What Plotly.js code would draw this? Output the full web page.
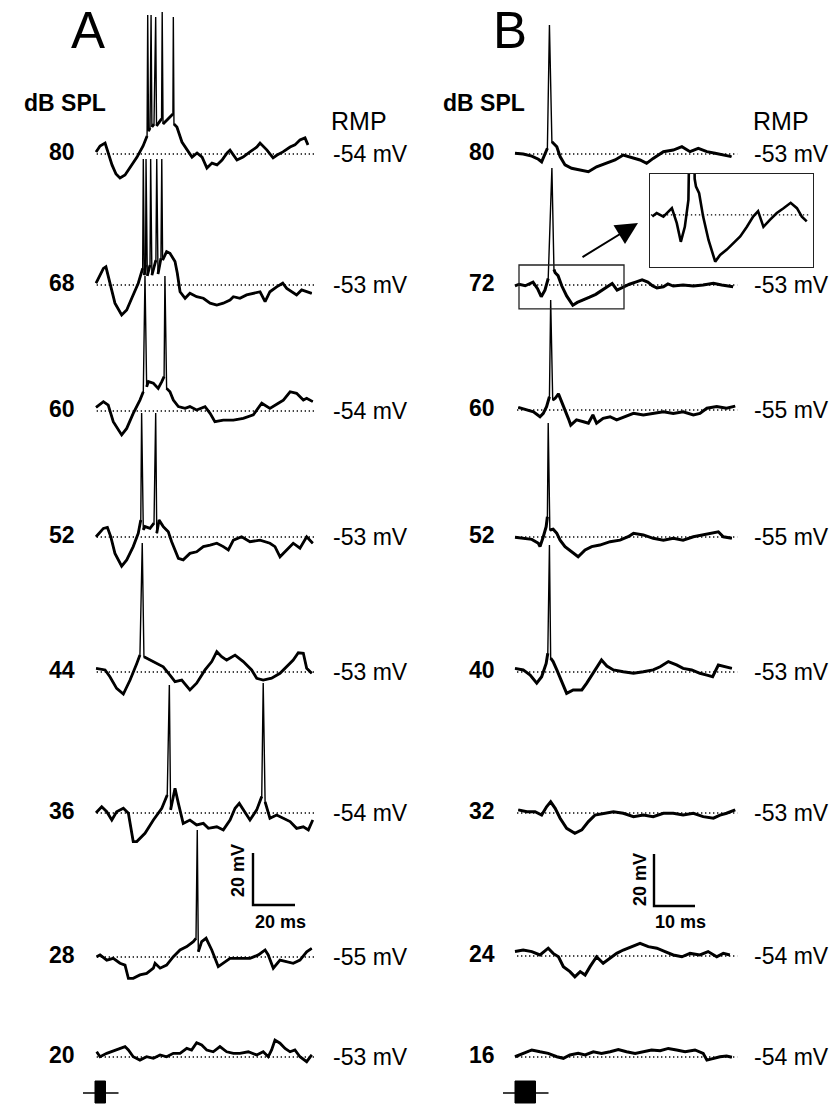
<!DOCTYPE html>
<html><head><meta charset="utf-8">
<script src="https://cdn.plot.ly/plotly-3.0.1.min.js"></script>
<style>html,body{margin:0;padding:0;background:#fff}</style>
</head><body><div id="chart" style="width:838px;height:1107px"></div>
<script>
// ---------- DATA (time in ms from stimulus onset, deviation from RMP in mV) ----------
const dbA = ['80','68','60','52','44','36','28','20'];
const rmpA = [-54,-53,-54,-53,-53,-54,-55,-53];
const dbB = ['80','72','60','52','40','32','24','16'];
const rmpB = [-53,-53,-55,-55,-53,-53,-54,-54];
const stimDur = 5;          // ms
const scaleA = {mv:20, ms:20};
const scaleB = {mv:20, ms:10};

// Panel A
const tA80=[0.5,2.4,4.8,6.2,8.1,10.0,11.9,14.3,16.7,20.0,22.9,24.8,25.1,25.5,26.2,26.7,27.1,28.1,28.9,29.3,30.5,31.7,32.0,32.4,33.8,35.7,37.1,37.3,37.6,39.0,41.4,43.8,46.2,48.6,51.0,53.3,55.7,58.1,60.5,62.9,64.3,67.6,70.5,73.8,77.1,78.6,81.9,84.8,86.7,89.5,92.9,95.2,97.6,100.0,101.4];
const vA80=[0.8,3.1,4.2,0.4,-4.2,-7.7,-9.2,-8.1,-5.4,-1.2,3.1,6.9,53.5,8.8,10.0,53.5,10.4,11.5,52.7,10.8,12.3,13.5,54.6,11.5,12.7,14.2,15.4,52.7,11.5,10.4,4.6,1.5,-1.2,0.4,-1.2,-5.4,-3.5,-4.2,-2.3,0.4,1.5,-2.3,-1.2,0.8,2.7,4.2,1.5,-1.5,-0.4,0.8,2.7,3.5,5.4,6.2,3.5];
const tA68=[0.5,4.0,5.2,6.3,8.0,9.5,12.7,15.1,17.5,20.6,22.7,23.0,23.5,24.1,24.3,24.9,26.2,26.5,27.1,29.0,29.4,30.0,31.4,31.8,32.2,34.1,35.7,38.1,39.2,40.5,42.9,45.2,48.4,51.6,54.8,58.0,61.1,64.3,65.9,69.0,72.2,75.4,78.6,81.0,83.3,86.5,89.4,91.3,93.7,96.0,98.4,100.8,103.2];
const vA68=[0.7,6.4,7.0,3.2,-1.9,-7.0,-11.5,-9.6,-5.1,0.7,6.4,48.5,3.8,7.7,48.5,3.5,7.7,48.5,3.8,9.6,48.5,4.2,10.3,48.5,9.6,12.8,12.2,9.0,4.5,-2.6,-5.1,-3.2,-4.5,-5.1,-7.0,-7.7,-7.0,-5.8,-4.5,-5.1,-3.8,-3.2,-2.6,-6.4,-2.6,-0.7,0.7,-1.3,-2.6,-3.8,-1.9,-2.6,-3.2];
const tA60=[0.5,4.0,6.3,8.7,12.7,15.1,18.2,21.4,23.0,23.8,24.6,25.4,27.8,30.1,31.8,32.9,33.3,34.1,35.7,37.3,39.7,42.9,45.2,48.4,52.4,54.8,57.1,61.1,65.9,70.6,75.4,79.4,83.3,87.3,89.7,92.9,96.0,99.2,100.8,103.7];
const vA60=[1.4,3.6,2.3,-4.1,-9.2,-6.7,-0.9,4.2,7.4,51.9,9.3,11.3,10.7,8.7,11.3,13.2,51.9,8.7,7.4,4.2,1.7,1.0,1.7,0.4,1.7,-0.9,-4.1,-3.5,-3.5,-2.8,-1.5,3.0,1.0,3.0,4.2,7.4,6.8,4.2,4.9,3.6];
const tA52=[0.5,4.0,5.9,7.5,9.5,12.7,15.1,18.2,20.6,21.8,22.2,23.0,23.8,26.2,28.1,28.9,29.4,30.5,32.5,34.9,36.5,39.7,42.0,45.2,48.4,51.6,54.8,58.0,61.1,63.5,65.9,69.8,73.8,78.6,83.3,85.7,88.1,91.3,94.4,97.6,100.8,103.7];
const vA52=[0.1,3.3,3.7,0.1,-6.3,-11.2,-8.8,-3.7,1.4,6.5,47.7,2.7,4.0,3.3,5.3,47.7,1.4,6.5,4.0,2.0,-1.8,-8.2,-8.8,-6.3,-5.7,-3.7,-3.1,-2.4,-3.7,-5.0,-1.2,0.1,-1.8,-1.2,-2.4,-3.7,-7.6,-5.0,-2.4,-4.3,0.1,-2.4];
const tA44=[0.5,4.8,7.1,10.3,13.5,16.7,19.9,21.4,22.5,23.3,26.2,29.4,32.5,35.7,38.1,41.3,45.2,48.4,52.4,55.6,58.0,60.3,62.7,66.7,70.6,74.6,77.0,80.1,84.1,88.1,91.3,94.4,96.8,99.2,100.8,103.2];
const vA44=[1.4,0.8,-1.8,-6.3,-8.5,-3.1,3.3,6.5,49.6,5.9,4.6,3.3,2.0,-1.2,-3.7,-3.1,-6.9,-4.3,0.8,4.0,7.8,5.9,4.6,6.5,4.0,0.8,-2.4,-3.1,-2.4,-0.5,2.0,4.6,7.4,7.2,1.4,-0.5];
const tA36=[0.5,3.2,5.6,8.0,10.3,13.5,15.9,18.2,19.9,23.8,27.8,31.8,34.4,35.4,36.0,38.1,39.7,42.0,45.2,48.4,51.6,54.0,58.0,61.1,64.3,66.7,68.7,70.6,73.8,77.0,79.4,80.1,81.0,83.3,86.5,89.7,92.9,96.0,99.2,101.6,103.7];
const vA36=[0.1,2.4,0.5,-2.7,0.5,1.8,-0.1,-11.0,-11.0,-7.8,-2.7,1.8,6.9,49.2,1.2,9.5,3.7,-4.0,-2.7,-4.6,-4.0,-5.9,-5.3,-6.5,-2.7,1.8,3.7,1.2,-2.7,1.2,6.3,50.0,4.3,-2.0,-0.8,-2.0,-3.3,-5.9,-5.3,-6.5,-2.7];
const tA28=[0.8,2.4,5.6,8.7,11.9,14.3,15.9,18.2,21.4,24.6,27.8,28.6,31.0,34.1,37.3,40.5,43.7,46.8,48.1,48.7,49.2,50.8,52.9,55.6,58.7,61.1,64.3,69.0,73.8,77.8,81.0,82.5,84.9,88.1,91.3,94.4,97.6,100.8,103.2];
const vA28=[0.1,0.8,-1.2,-0.5,-2.4,-3.1,-8.2,-8.2,-6.9,-6.3,-4.3,-2.4,-4.3,-3.1,0.1,2.7,4.0,5.9,7.2,48.8,2.0,5.9,7.2,2.7,-3.7,-2.4,-0.5,-0.5,-0.5,0.8,2.7,0.8,-4.3,-1.2,-1.8,-2.4,-1.2,2.0,3.3];
const tA20=[0.8,2.4,5.6,9.5,14.3,15.9,18.2,21.4,24.6,27.8,31.0,34.1,37.3,40.5,43.7,46.0,48.4,50.8,53.2,56.3,59.5,62.7,65.9,69.0,73.0,77.0,80.1,82.5,84.1,85.7,88.1,90.5,92.9,95.2,97.6,100.8,103.2];
const vA20=[2.0,0.1,1.4,2.7,4.0,2.7,0.1,-1.2,0.1,-0.5,0.8,0.1,1.4,1.4,3.3,2.7,5.5,4.6,2.7,2.0,4.0,2.0,1.4,1.4,2.0,0.8,2.0,0.1,2.7,6.5,5.3,3.3,2.0,2.7,0.1,-1.8,0.8];

// Panel B
const tB80=[0.0,2.0,4.1,5.7,6.5,7.3,7.9,8.4,9.0,10.2,11.0,12.2,13.8,15.9,17.9,19.9,22.4,24.4,26.4,28.5,30.5,32.1,33.7,36.2,38.6,40.7,42.7,44.7,46.8,48.8,50.8,52.8];
const vB80=[0.3,0.0,-0.8,-2.0,-3.0,0.3,2.2,49.6,4.7,2.8,-1.0,-4.2,-5.5,-6.2,-6.8,-4.9,-3.6,-2.3,-0.4,-1.3,-2.3,-3.6,-1.7,0.9,1.5,2.8,0.9,2.2,0.9,0.3,-0.4,-1.0];
const tB72=[0.0,1.0,2.5,4.4,5.5,6.4,7.3,8.1,9.0,9.5,9.8,10.5,11.4,12.6,14.1,15.2,16.7,18.2,19.7,21.2,22.6,23.7,24.9,26.4,27.9,29.4,31.0,32.4,33.5,34.6,36.2,37.3,38.6,41.0,43.5,45.9,48.4,50.4,53.2];
const vB72=[-0.3,0.3,-0.3,1.1,-1.4,-4.5,-2.0,2.5,45.0,6.0,4.7,3.6,-0.3,-4.2,-7.8,-6.7,-5.8,-4.7,-3.6,-2.0,-0.3,0.6,-2.0,-0.8,0.3,1.1,2.0,1.1,-0.3,-1.1,-0.7,0.4,-0.4,0.0,-0.4,0.0,0.7,0.0,-0.7];
const tB60=[0.8,2.9,4.5,6.1,6.9,7.7,8.4,8.7,9.2,9.8,10.6,11.4,12.2,13.0,13.6,15.0,16.7,17.9,19.0,19.9,21.5,23.2,24.8,26.8,28.9,31.3,33.7,36.2,38.6,41.0,43.5,45.1,46.8,49.2,51.6,53.7];
const vB60=[1.0,0.0,-0.7,-2.6,-1.3,1.3,5.1,42.3,3.8,4.5,6.2,3.2,0.0,-3.2,-5.8,-3.8,-4.5,-5.1,-1.9,-5.1,-3.2,-2.6,-3.8,-2.6,-1.3,-1.9,-1.3,-0.7,-1.3,-0.7,-1.9,-1.3,0.7,1.3,0.7,1.5];
const tB52=[0.0,2.0,4.1,5.7,6.1,6.9,7.6,7.9,8.1,8.5,9.3,10.2,11.0,12.2,13.8,15.4,17.1,18.7,20.7,23.2,25.6,27.6,28.9,31.3,33.7,36.2,38.6,41.0,43.5,45.9,48.4,49.6,50.8,52.9];
const vB52=[-0.1,-0.5,-0.9,-2.4,-3.7,0.1,4.0,7.8,43.8,2.7,3.0,1.4,-1.2,-3.7,-5.7,-7.6,-5.0,-3.7,-3.1,-1.8,-1.2,0.1,1.4,0.8,-0.5,-1.2,-0.5,-1.2,0.1,0.8,1.4,2.0,0.1,-0.5];
const tB40=[0.0,2.0,3.7,5.3,6.5,7.6,8.0,8.4,8.7,9.3,10.2,11.0,12.0,12.6,14.2,16.3,17.5,19.1,21.1,22.4,24.0,26.4,28.9,31.3,33.7,35.4,37.4,39.4,41.0,43.1,45.1,46.8,48.2,49.6,51.2,52.9];
const vB40=[1.4,0.8,-1.2,-4.3,-1.8,3.3,7.2,48.8,5.3,4.0,0.8,-2.4,-6.3,-8.2,-6.9,-6.9,-4.3,-0.5,4.6,2.3,0.8,0.1,-0.5,0.1,0.8,2.0,4.0,2.7,1.4,0.8,-0.5,-1.2,-1.8,2.7,2.0,1.4];
const tB32=[0.8,2.9,4.9,6.5,7.7,8.7,9.8,11.0,12.6,14.6,16.3,17.9,19.5,21.5,24.0,26.4,28.9,31.3,33.7,36.2,38.6,41.0,43.5,45.9,48.4,50.0,51.6,53.7];
const vB32=[1.2,0.5,0.5,-0.8,2.4,4.3,1.8,-2.0,-5.9,-7.8,-6.5,-3.3,-0.8,-0.1,0.5,-0.1,-1.4,-0.8,-1.4,-0.1,-0.1,-0.8,-0.1,-1.4,-2.0,-0.8,-0.1,1.2];
const tB24=[0.0,2.0,4.1,6.1,8.1,9.3,10.6,11.8,13.4,14.6,15.9,17.1,18.3,19.9,21.5,23.2,24.8,26.4,28.5,30.5,32.5,34.6,36.6,38.6,40.7,42.7,45.1,47.1,49.2,50.8,52.4];
const vB24=[1.7,2.3,1.7,0.4,3.0,1.0,-0.3,-4.1,-6.0,-8.0,-6.0,-7.3,-4.1,-0.3,-2.8,-0.9,1.0,2.3,3.6,4.9,3.6,3.0,1.7,0.4,-0.3,1.0,0.4,1.7,-0.3,1.0,0.4];
const tB16=[0.0,2.0,4.1,6.1,8.1,10.2,11.8,13.4,15.4,17.1,19.1,21.1,23.2,25.2,27.2,29.3,31.3,33.3,35.4,37.4,39.4,41.5,43.9,45.9,46.8,48.4,50.0,51.6,52.9];
const vB16=[0.1,1.4,2.7,2.0,1.4,0.1,-0.5,0.8,1.4,0.8,2.0,1.4,2.0,2.9,2.0,1.4,2.0,2.7,2.4,3.3,2.7,2.0,2.7,1.4,-1.2,-0.5,0.1,0.4,-0.1];

// ---------- LAYOUT CONSTANTS ----------
const W=838, H=1107, PXMV=2.6, PXMS_A=2.1, PXMS_B=4.1, X0A=95, X0B=515;
const rowPxA=[154,285,411,537,672,813,957,1057];
const rowPxB=[154,285,410,537,672,813,956,1057];
const off = py => (H-py)/PXMV;
const FONT = 'Liberation Sans, Arial, sans-serif';
const SPIKE_MV = 20;   // points above this are drawn only by the thin layer

const setA=[[tA80,vA80],[tA68,vA68],[tA60,vA60],[tA52,vA52],[tA44,vA44],[tA36,vA36],[tA28,vA28],[tA20,vA20]];
const setB=[[tB80,vB80],[tB72,vB72],[tB60,vB60],[tB52,vB52],[tB40,vB40],[tB32,vB32],[tB24,vB24],[tB16,vB16]];

const data=[];
const dotted={color:'#000',width:1.3,dash:'1.3px,2.7px'};
rowPxA.forEach(py=>data.push({x:[0.8,104.8],y:[off(py),off(py)],xaxis:'x',yaxis:'y',mode:'lines',line:dotted,hoverinfo:'skip'}));
rowPxB.forEach(py=>data.push({x:[0.5,54.2],y:[off(py),off(py)],xaxis:'x2',yaxis:'y',mode:'lines',line:dotted,hoverinfo:'skip'}));

function addTrace(t,v,o,xa,thick){
  // thick (noisy-looking) body without the spike peaks
  data.push({x:t,y:v.map(d=>d>SPIKE_MV?null:d+o),xaxis:xa,yaxis:'y',mode:'lines',connectgaps:false,
    line:{color:'#000',width:thick},hoverinfo:'skip'});
  // thin full trace (spikes)
  data.push({x:t,y:v.map(d=>d+o),xaxis:xa,yaxis:'y',mode:'lines',line:{color:'#000',width:1.4},hoverinfo:'skip'});
}
setA.forEach((s,i)=>addTrace(s[0],s[1],off(rowPxA[i]),'x',2.8));
setB.forEach((s,i)=>addTrace(s[0],s[1],off(rowPxB[i]),'x2',3.0));

// inset (enlarged B 72 dB trace)
const insetEnd=34.6;
const insT=[], insV=[];
tB72.forEach((t,i)=>{ if(t<=insetEnd){insT.push(t); insV.push(vB72[i]);} });
data.push({x:[-0.3,35.3],y:[0,0],xaxis:'x3',yaxis:'y3',mode:'lines',line:dotted,hoverinfo:'skip'});
data.push({x:insT,y:insV,xaxis:'x3',yaxis:'y3',mode:'lines',line:{color:'#000',width:2.6},hoverinfo:'skip'});

// scale bars (data units)
const sbA={x:(253-X0A)/PXMS_A, y:off(905)};
const sbB={x:(654-X0B)/PXMS_B, y:off(906)};
data.push({x:[sbA.x,sbA.x,sbA.x+scaleA.ms],y:[sbA.y+scaleA.mv,sbA.y,sbA.y],xaxis:'x',yaxis:'y',mode:'lines',line:{color:'#000',width:2.4},hoverinfo:'skip'});
data.push({x:[sbB.x,sbB.x,sbB.x+scaleB.ms],y:[sbB.y+scaleB.mv,sbB.y,sbB.y],xaxis:'x2',yaxis:'y',mode:'lines',line:{color:'#000',width:2.4},hoverinfo:'skip'});

const shapes=[];
function stim(xr, pxms){
  const yl=off(1093), yb0=off(1103), yb1=off(1081);
  shapes.push({type:'line',xref:xr,yref:'y',x0:-12/pxms,x1:stimDur+13/pxms,y0:yl,y1:yl,line:{color:'#000',width:1.6}});
  shapes.push({type:'rect',xref:xr,yref:'y',x0:0,x1:stimDur,y0:yb0,y1:yb1,fillcolor:'#000',line:{color:'#000',width:1}});
}
stim('x',PXMS_A); stim('x2',PXMS_B);
shapes.push({type:'rect',xref:'x2',yref:'y',x0:(519-X0B)/PXMS_B,x1:(624-X0B)/PXMS_B,y0:off(rowPxB[1])-9.2,y1:off(rowPxB[1])+7.7,line:{color:'#222',width:1.3},fillcolor:'rgba(0,0,0,0)'});

const ann=[];
function txt(s,px,py,size,xa,extra){
  ann.push(Object.assign({text:s,xref:'paper',yref:'paper',x:px/W,y:1-py/H,xanchor:xa||'center',yanchor:'middle',showarrow:false,font:{family:FONT,size:size,color:'#000'}},extra||{}));
}
txt('A',88,30,51); txt('B',510,30,51);
txt('<b>dB SPL</b>',108,103,23,'right'); txt('<b>dB SPL</b>',527,103,23,'right');
txt('RMP',359,121,25); txt('RMP',781,121,25);
dbA.forEach((d,i)=>txt('<b>'+d+'</b>',77,rowPxA[i]-2,23,'right'));
dbB.forEach((d,i)=>txt('<b>'+d+'</b>',497,rowPxB[i]-2,23,'right'));
rmpA.forEach((r,i)=>txt(r+' mV',331,rowPxA[i],23,'left'));
rmpB.forEach((r,i)=>txt(r+' mV',752,rowPxB[i],23,'left'));
txt('<b>'+scaleA.mv+' mV</b>',238,871,18,'center',{textangle:-90});
txt('<b>'+scaleA.ms+' ms</b>',280,922,18);
txt('<b>'+scaleB.mv+' mV</b>',640,880,18,'center',{textangle:-90});
txt('<b>'+scaleB.ms+' ms</b>',680,922,18);
ann.push({text:'',xref:'paper',yref:'paper',x:638/W,y:1-223/H,ax:-57,ay:35,axref:'pixel',ayref:'pixel',showarrow:true,arrowhead:2,arrowsize:2.2,arrowwidth:2,arrowcolor:'#000'});

const hid={visible:false,showgrid:false,zeroline:false,fixedrange:true};
const boxAx={showline:true,mirror:true,linecolor:'#222',linewidth:1.4,ticks:'',showticklabels:false,showgrid:false,zeroline:false,fixedrange:true};
const layout={
  width:W,height:H,margin:{l:0,r:0,t:0,b:0,pad:0},
  paper_bgcolor:'#fff',plot_bgcolor:'rgba(0,0,0,0)',showlegend:false,
  xaxis:Object.assign({domain:[0,1],range:[-X0A/PXMS_A,(W-X0A)/PXMS_A],anchor:'y'},hid),
  xaxis2:Object.assign({domain:[0,1],range:[-X0B/PXMS_B,(W-X0B)/PXMS_B],anchor:'y',overlaying:'x'},hid),
  yaxis:Object.assign({domain:[0,1],range:[0,H/PXMV],anchor:'x'},hid),
  xaxis3:Object.assign({domain:[650/W,813/W],range:[-0.5,36],anchor:'y3'},boxAx),
  yaxis3:Object.assign({domain:[1-267/H,1-174/H],range:[-8.7,6.8],anchor:'x3'},boxAx),
  shapes:shapes,annotations:ann
};
Plotly.newPlot('chart',data,layout,{displayModeBar:false,staticPlot:true});
</script></body></html>
